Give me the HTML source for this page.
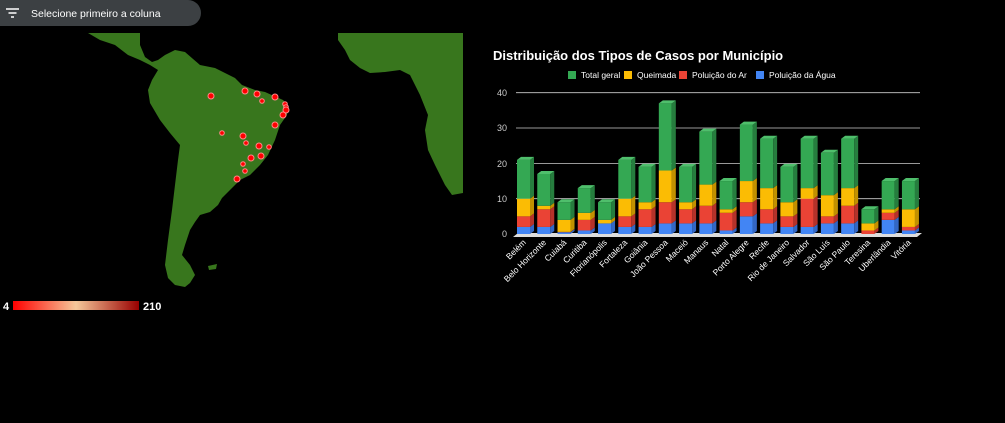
<!DOCTYPE html>
<html><head><meta charset="utf-8"><style>
html,body{margin:0;padding:0;background:#000;width:1005px;height:423px;overflow:hidden;font-family:"Liberation Sans",sans-serif}
</style></head><body>
<svg width="1005" height="423" xmlns="http://www.w3.org/2000/svg" font-family="Liberation Sans, sans-serif">
<rect width="1005" height="423" fill="#000"/>
<polygon fill="#38761d" points="88,33 140,33 140,45 145,57 152,62 158,60 165,55 175,50 185,52 200,65 215,68 235,78 242,85 255,90 265,92 283,100 288,105 287,115 280,125 275,140 268,155 260,165 250,175 240,180 230,190 222,198 218,205 210,212 200,215 195,222 190,230 185,245 182,255 190,265 195,275 190,283 185,287 175,285 168,278 165,265 168,240 172,210 175,185 178,160 180,145 170,133 160,120 150,103 148,90 152,80 158,70 150,65 140,60 128,55 115,45 100,40"/>
<polygon fill="#38761d" points="338,33 463,33 463,193 452,195 445,185 435,165 428,150 425,130 428,115 420,95 415,85 410,75 400,70 385,72 370,73 360,68 350,60 345,50 338,40"/>
<polygon fill="#38761d" points="208,266 217,264 216,269 209,270"/>
<g fill="#f00" stroke="#f88" stroke-width="1">
<circle cx="211" cy="96" r="3"/><circle cx="245" cy="91" r="3"/><circle cx="257" cy="94" r="3"/><circle cx="275" cy="97" r="3"/><circle cx="262" cy="101" r="2.3"/><circle cx="285" cy="104" r="2.3"/><circle cx="286" cy="107" r="2.3"/><circle cx="286" cy="110" r="3"/><circle cx="283" cy="115" r="3"/><circle cx="275" cy="125" r="3"/><circle cx="222" cy="133" r="2.3"/><circle cx="243" cy="136" r="3"/><circle cx="246" cy="143" r="2.3"/><circle cx="259" cy="146" r="3"/><circle cx="269" cy="147" r="2.3"/><circle cx="251" cy="158" r="3"/><circle cx="261" cy="156" r="3"/><circle cx="243" cy="164" r="2.3"/><circle cx="245" cy="171" r="2.3"/><circle cx="237" cy="179" r="3"/>
</g>
<defs><linearGradient id="g" x1="0" x2="1"><stop offset="0" stop-color="#f00"/><stop offset="0.5" stop-color="#f5c89a"/><stop offset="1" stop-color="#900"/></linearGradient></defs>
<rect x="13" y="301" width="126" height="9" fill="url(#g)"/>
<text x="3" y="310" fill="#fff" font-size="11" font-weight="bold">4</text>
<text x="143" y="310" fill="#fff" font-size="11" font-weight="bold">210</text>
<rect x="-20" y="0" width="221" height="26" rx="13" fill="#3c4043"/>
<g stroke="#fff" stroke-width="1.5"><line x1="6" y1="9" x2="19" y2="9"/><line x1="8.5" y1="13" x2="16.5" y2="13"/><line x1="11" y1="17" x2="14" y2="17"/></g>
<text x="31" y="17" fill="#fff" font-size="10.5">Selecione primeiro a coluna</text>
<text x="493" y="60" fill="#fff" font-size="13" font-weight="bold">Distribuição dos Tipos de Casos por Município</text>
<g font-size="8.5" fill="#fff">
<rect x="568" y="71" width="8" height="8" fill="#34a853"/><text x="581" y="78">Total geral</text>
<rect x="624" y="71" width="8" height="8" fill="#fbbc04"/><text x="637" y="78">Queimada</text>
<rect x="679" y="71" width="8" height="8" fill="#ea4335"/><text x="692" y="78">Poluição do Ar</text>
<rect x="756" y="71" width="8" height="8" fill="#4285f4"/><text x="769" y="78">Poluição da Água</text>
</g>
<g stroke="#ccc" stroke-width="0.8">
<line x1="516" y1="92.7" x2="920" y2="92.7"/><line x1="516" y1="128" x2="920" y2="128"/><line x1="516" y1="163.4" x2="920" y2="163.4"/><line x1="516" y1="198.7" x2="920" y2="198.7"/>
</g>
<g fill="#ccc" font-size="9" text-anchor="end">
<text x="507" y="96">40</text><text x="507" y="131">30</text><text x="507" y="167">20</text><text x="507" y="202">10</text><text x="507" y="237">0</text>
</g>
<polygon points="513,237 917,237 922,233 518,233" fill="#ddd"/>
<g id="bars"></g>
<g id="labels" fill="#fff" font-size="8.5" text-anchor="end"></g>
</svg>
<script>
var d=[["Belém",2,5,10,21],["Belo Horizonte",2,7,8,17],["Cuiabá",0.5,0.6,4,9],["Curitiba",1,4,6,13],["Florianópolis",3,3,4,9],["Fortaleza",2,5,10,21],["Goiânia",2,7,9,19],["João Pessoa",3,9,18,37],["Maceió",3,7,9,19],["Manaus",3,8,14,29],["Natal",1,6,7,15],["Porto Alegre",5,9,15,31],["Recife",3,7,13,27],["Rio de Janeiro",2,5,9,19],["Salvador",2,10,13,27],["São Luís",3,5,11,23],["São Paulo",3,8,13,27],["Teresina",0,1,3,7],["Uberlândia",4,6,7,15],["Vitória",1,2,7,15]];
var cols=[["#4285f4","#3367c4"],["#ea4335","#b5322a"],["#fbbc04","#c29100"],["#34a853","#267d3e"]];
var ns="http://www.w3.org/2000/svg",B=document.getElementById("bars"),L=document.getElementById("labels");
function y(v){return 234-v*3.53;}
function el(t,a,p){var e=document.createElementNS(ns,t);for(var k in a)e.setAttribute(k,a[k]);p.appendChild(e);return e;}
d.forEach(function(r,i){var x=517+20.26*i,w=13,dx=4,dy=3,prev=0;
for(var j=0;j<4;j++){var v=r[j+1];if(v<=prev){continue;}var y0=y(prev),y1=y(v);
el("rect",{x:x,y:y1,width:w,height:y0-y1,fill:cols[j][0]},B);
el("polygon",{points:(x+w)+","+y1+" "+(x+w+dx)+","+(y1-dy)+" "+(x+w+dx)+","+(y0-dy)+" "+(x+w)+","+y0,fill:cols[j][1]},B);
prev=v;}
var yt=y(prev);el("polygon",{points:x+","+yt+" "+(x+dx)+","+(yt-dy)+" "+(x+w+dx)+","+(yt-dy)+" "+(x+w)+","+yt,fill:"#4fbf6c"},B);
var t=el("text",{x:x+w/2+3,y:243,transform:"rotate(-45 "+(x+w/2+3)+" 243)"},L);t.textContent=r[0];});
</script>
</body></html>
